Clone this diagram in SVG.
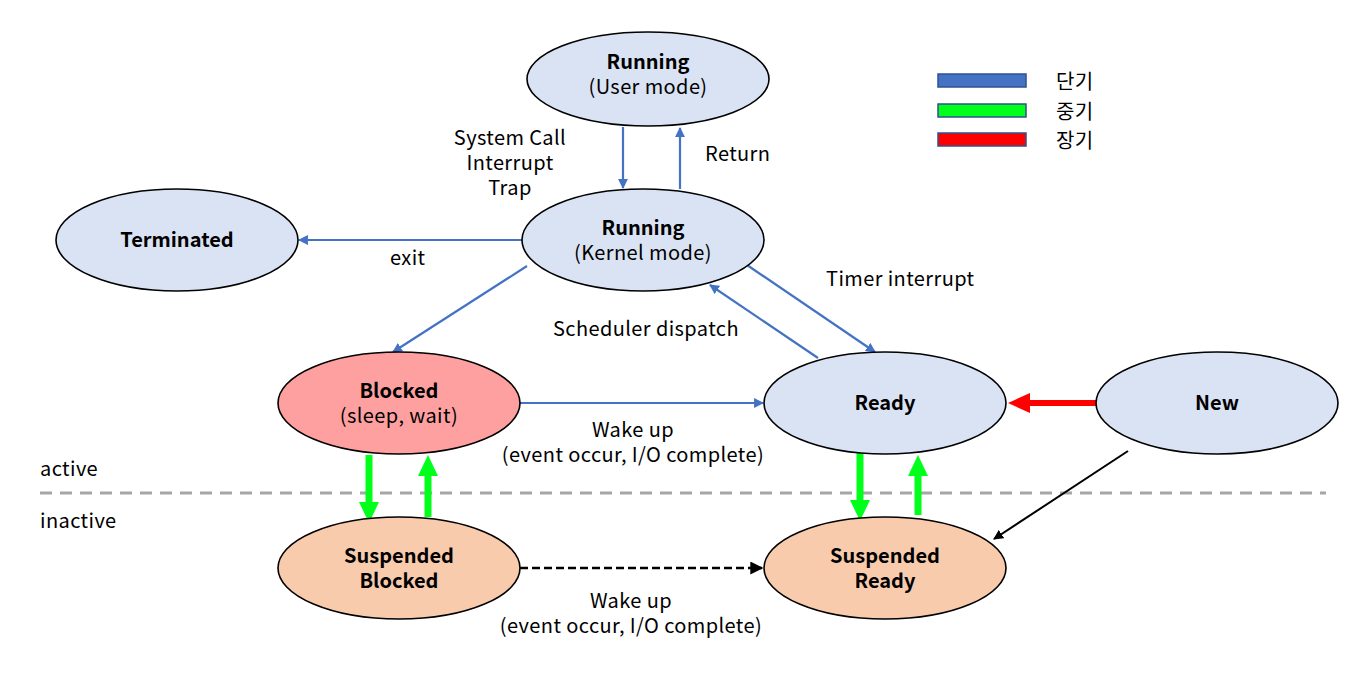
<svg xmlns="http://www.w3.org/2000/svg" width="1357" height="684" viewBox="0 0 1357 684">
<style>
text{font-family:"Noto Sans CJK KR","Open Sans",sans-serif;font-size:20px;letter-spacing:0.4px;fill:#000}
.b{font-weight:bold;letter-spacing:0}
.node{stroke:#000;stroke-width:1.6}
.n1{fill:#DAE3F3}
.n2{fill:#FFA0A0}
.n3{fill:#F8CBAD}
.blue{stroke:#4472C4;stroke-width:2.2;fill:none;marker-end:url(#mb)}
.green{stroke:#00FF1A;stroke-width:7;fill:none}
.gh{fill:#00FF1A}
</style>
<defs>
<marker id="mb" viewBox="0 0 10 10" refX="9" refY="5" markerWidth="4.5" markerHeight="4.5" orient="auto" markerUnits="strokeWidth">
<path d="M0,0L10,5L0,10z" fill="#4472C4"/>
</marker>
<marker id="mk" viewBox="0 0 10 10" refX="9" refY="5" markerWidth="5" markerHeight="5" orient="auto" markerUnits="strokeWidth">
<path d="M0,0L10,5L0,10z" fill="#000"/>
</marker>
</defs>
<line x1="40" y1="493" x2="1326" y2="493" stroke="#A6A6A6" stroke-width="3" stroke-dasharray="12,8"/>
<g id="legend">
<rect x="938" y="74" width="88" height="13" fill="#4472C4" stroke="#2F528F" stroke-width="1.5"/>
<rect x="938" y="104" width="88" height="13" fill="#00FF1A" stroke="#2F528F" stroke-width="1.5"/>
<rect x="938" y="133" width="88" height="13" fill="#FF0000" stroke="#2F528F" stroke-width="1.5"/>
<text x="1056" y="89">단기</text>
<text x="1056" y="119">중기</text>
<text x="1056" y="148">장기</text>
</g>
<g id="connectors">
<line class="blue" x1="623" y1="127" x2="623" y2="188"/>
<line class="blue" x1="680" y1="189" x2="680" y2="128"/>
<line class="blue" x1="522" y1="240" x2="299" y2="240"/>
<line class="blue" x1="527" y1="266" x2="393" y2="352"/>
<line class="blue" x1="747" y1="265" x2="875" y2="352"/>
<line class="blue" x1="818" y1="358" x2="710" y2="285"/>
<line class="blue" x1="520" y1="403" x2="763" y2="403"/>
<line x1="520" y1="568" x2="762" y2="568" stroke="#000" stroke-width="2.6" stroke-dasharray="8,4" marker-end="url(#mk)"/>
<line x1="1128" y1="451" x2="994" y2="539" stroke="#000" stroke-width="2" marker-end="url(#mk)"/>
<line x1="1096" y1="403" x2="1026" y2="403" stroke="#FF0000" stroke-width="6"/>
<path d="M1008,403L1030,393L1030,413z" fill="#FF0000"/>
<line class="green" x1="369" y1="455" x2="369" y2="504"/>
<path class="gh" d="M359,502L379,502L369,523z"/>
<line class="green" x1="428" y1="517" x2="428" y2="474"/>
<path class="gh" d="M418,476L438,476L428,455z"/>
<line class="green" x1="860" y1="452" x2="860" y2="502"/>
<path class="gh" d="M850,500L870,500L860,521z"/>
<line class="green" x1="918" y1="515" x2="918" y2="474"/>
<path class="gh" d="M908,476L928,476L918,455z"/>
</g>
<g id="labels">
<text x="510" y="145" text-anchor="middle">System Call</text>
<text x="510" y="170" text-anchor="middle">Interrupt</text>
<text x="510" y="195" text-anchor="middle">Trap</text>
<text x="705" y="161">Return</text>
<text x="390" y="265">exit</text>
<text x="826" y="286">Timer interrupt</text>
<text x="553" y="336">Scheduler dispatch</text>
<text x="633" y="437" text-anchor="middle">Wake up</text>
<text x="633" y="462" text-anchor="middle">(event occur, I/O complete)</text>
<text x="40" y="476">active</text>
<text x="40" y="528">inactive</text>
<text x="631" y="608" text-anchor="middle">Wake up</text>
<text x="631" y="633" text-anchor="middle">(event occur, I/O complete)</text>
</g>
<g id="running-user">
<ellipse class="node n1" cx="648" cy="79" rx="121" ry="47"/>
<text class="b" x="648" y="69" text-anchor="middle">Running</text>
<text x="648" y="94" text-anchor="middle">(User mode)</text>
</g>
<g id="running-kernel">
<ellipse class="node n1" cx="643" cy="240" rx="121" ry="51"/>
<text class="b" x="643" y="235" text-anchor="middle">Running</text>
<text x="643" y="260" text-anchor="middle">(Kernel mode)</text>
</g>
<g id="terminated">
<ellipse class="node n1" cx="177" cy="240" rx="121" ry="51"/>
<text class="b" x="177" y="247" text-anchor="middle">Terminated</text>
</g>
<g id="blocked">
<ellipse class="node n2" cx="399" cy="403" rx="121" ry="51"/>
<text class="b" x="399" y="398" text-anchor="middle">Blocked</text>
<text x="399" y="423" text-anchor="middle">(sleep, wait)</text>
</g>
<g id="ready">
<ellipse class="node n1" cx="885" cy="403" rx="121" ry="51"/>
<text class="b" x="885" y="410" text-anchor="middle">Ready</text>
</g>
<g id="new">
<ellipse class="node n1" cx="1217" cy="403" rx="121" ry="51"/>
<text class="b" x="1217" y="410" text-anchor="middle">New</text>
</g>
<g id="suspended-blocked">
<ellipse class="node n3" cx="399" cy="568" rx="121" ry="51"/>
<text class="b" x="399" y="563" text-anchor="middle">Suspended</text>
<text class="b" x="399" y="588" text-anchor="middle">Blocked</text>
</g>
<g id="suspended-ready">
<ellipse class="node n3" cx="885" cy="568" rx="121" ry="51"/>
<text class="b" x="885" y="563" text-anchor="middle">Suspended</text>
<text class="b" x="885" y="588" text-anchor="middle">Ready</text>
</g>
</svg>
